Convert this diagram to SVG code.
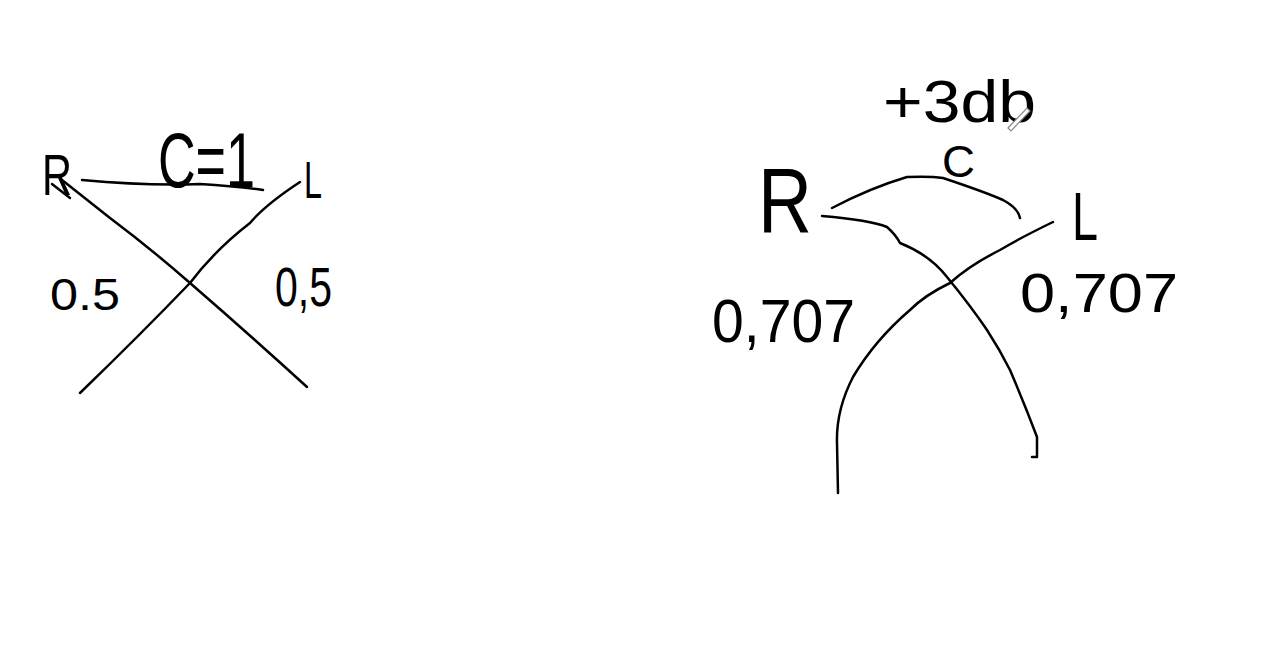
<svg xmlns="http://www.w3.org/2000/svg" width="1261" height="656" viewBox="0 0 1261 656">
<style>
.s{fill:none;stroke:#000;stroke-width:2.5;stroke-linecap:round;stroke-linejoin:round}
.t{font-family:"Liberation Sans",Arial,sans-serif;fill:#000}
</style>
<rect width="1261" height="656" fill="#fff"/>
<g id="left">
<g id="connectors-left">
<path class="s" d="M82,180 Q147,186 200,184 Q235,186 263,190"/>
<path class="s" d="M62,180 L110,218 Q150,248 190,283 Q250,335 307,387"/>
<path class="s" d="M300,182 Q265,205 250,223 Q215,250 190,283 Q140,335 80,393"/>
<path class="s" d="M52,184 L70,198"/>
</g>
<text class="t" x="42" y="195" font-size="58" textLength="30" lengthAdjust="spacingAndGlyphs">R</text>
<text class="t" x="158" y="187" font-size="78" textLength="97" lengthAdjust="spacingAndGlyphs">C=1</text>
<text class="t" x="304" y="198" font-size="52" textLength="18" lengthAdjust="spacingAndGlyphs">L</text>
<text class="t" x="50" y="310" font-size="44" textLength="70" lengthAdjust="spacingAndGlyphs">0.5</text>
<text class="t" x="275" y="306" font-size="56" textLength="57" lengthAdjust="spacingAndGlyphs">0,5</text>
</g>
<g id="right">
<g id="connectors-right">
<path class="s" d="M832,208 Q870,188 907,177 Q930,176 943,178 Q985,192 1003,200 Q1018,208 1020,218"/>
<path class="s" d="M822,216 Q870,220 887,227 Q896,235 900,243 Q930,255 947,277 Q970,305 987,330 Q1000,350 1010,370 Q1025,405 1037,437 L1037,457 L1032,457"/>
<path class="s" d="M1053,222 Q1020,238 1000,250 Q970,265 950,283 Q925,295 910,310 Q875,340 853,377 Q836,410 837,443 L838,493"/>
</g>
<text class="t" x="883" y="122" font-size="60" textLength="153" lengthAdjust="spacingAndGlyphs">+3db</text>
<text class="t" x="942" y="177" font-size="44" textLength="33" lengthAdjust="spacingAndGlyphs">C</text>
<text class="t" x="758" y="233" font-size="92" textLength="54" lengthAdjust="spacingAndGlyphs">R</text>
<text class="t" x="1072" y="240" font-size="68" textLength="26" lengthAdjust="spacingAndGlyphs">L</text>
<text class="t" x="712" y="342" font-size="62" textLength="143" lengthAdjust="spacingAndGlyphs">0,707</text>
<text class="t" x="1020" y="312" font-size="56" textLength="158" lengthAdjust="spacingAndGlyphs">0,707</text>
<path d="M1008,128 L1027,108 L1030,111 L1011,131 Z" fill="#fff" stroke="#888" stroke-width="1.2"/>
</g>
</svg>
